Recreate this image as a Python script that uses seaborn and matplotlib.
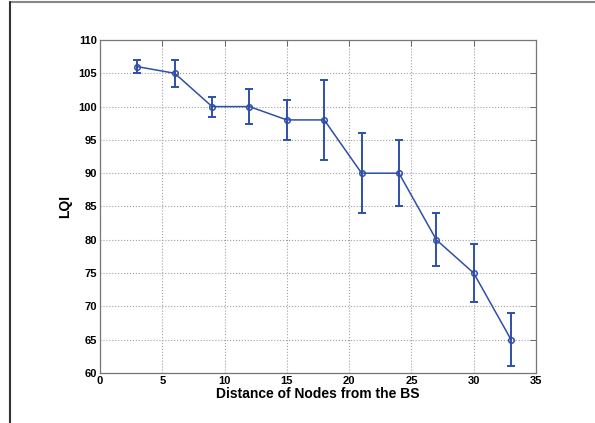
import matplotlib
matplotlib.use('Agg')
import matplotlib.pyplot as plt
from matplotlib.lines import Line2D
import seaborn as sns
import pandas as pd

# distance of node from base station and measured LQI
distance = [3, 6, 9, 12, 15, 18, 21, 24, 27, 30, 33]
lqi = [106, 105, 100, 100, 98, 98, 90, 90, 80, 75, 65]
err_low = [1, 2, 1.5, 2.6, 3, 6, 6, 5, 4, 4.4, 4]
err_high = [1, 2, 1.5, 2.6, 3, 6, 6, 5, 4, 4.4, 4]

data = pd.DataFrame({'dist': distance, 'lqi': lqi})

sns.set_style('white')
plt.rcParams['font.family'] = ['Liberation Sans', 'DejaVu Sans']
plt.rcParams['font.weight'] = 'bold'
plt.rcParams['text.color'] = 'black'
plt.rcParams['axes.labelcolor'] = 'black'
plt.rcParams['xtick.color'] = 'black'
plt.rcParams['ytick.color'] = 'black'

line_color = '#2f4fa8'

fig = plt.figure(figsize=(5.95, 4.23), dpi=100)
ax = fig.add_axes([100 / 595, 50 / 423, 436 / 595, 333 / 423])

ax.errorbar(data['dist'], data['lqi'], yerr=[err_low, err_high], fmt='none',
            ecolor=line_color, elinewidth=1.4, capsize=3, capthick=1.4, zorder=3)
sns.lineplot(x='dist', y='lqi', data=data, ax=ax, color=line_color, lw=1.1,
             marker='o', markersize=4, markerfacecolor='none',
             markeredgecolor=line_color, markeredgewidth=1.1, zorder=4)

ax.set_xlim(0, 35)
ax.set_ylim(60, 110)
ax.set_xticks(range(0, 36, 5))
ax.set_yticks(range(60, 111, 5))
ax.grid(True, linestyle=':', color='#a0a0a0', lw=0.8)
ax.tick_params(direction='in', length=4, width=0.7, top=True, right=True,
               labelsize=8, pad=2, color='#666666', labelcolor='black')
for lab in ax.get_xticklabels() + ax.get_yticklabels():
    lab.set_fontweight('bold')
for sp in ax.spines.values():
    sp.set_color('#777777')
    sp.set_linewidth(0.9)

ax.set_xlabel('Distance of Nodes from the BS', fontsize=10, fontweight='bold', labelpad=1)
ax.set_ylabel('LQI', fontsize=10, fontweight='bold', labelpad=5)

# outer frame lines of the original figure
fig.add_artist(Line2D([10 / 595, 1], [1 - 2 / 423, 1 - 2 / 423],
                      transform=fig.transFigure, color='#888888', lw=1.5))
fig.add_artist(Line2D([10 / 595, 10 / 595], [0, 1 - 2 / 423],
                      transform=fig.transFigure, color='#333333', lw=1.5))

plt.savefig('out.png', dpi=100)
plt.close()
